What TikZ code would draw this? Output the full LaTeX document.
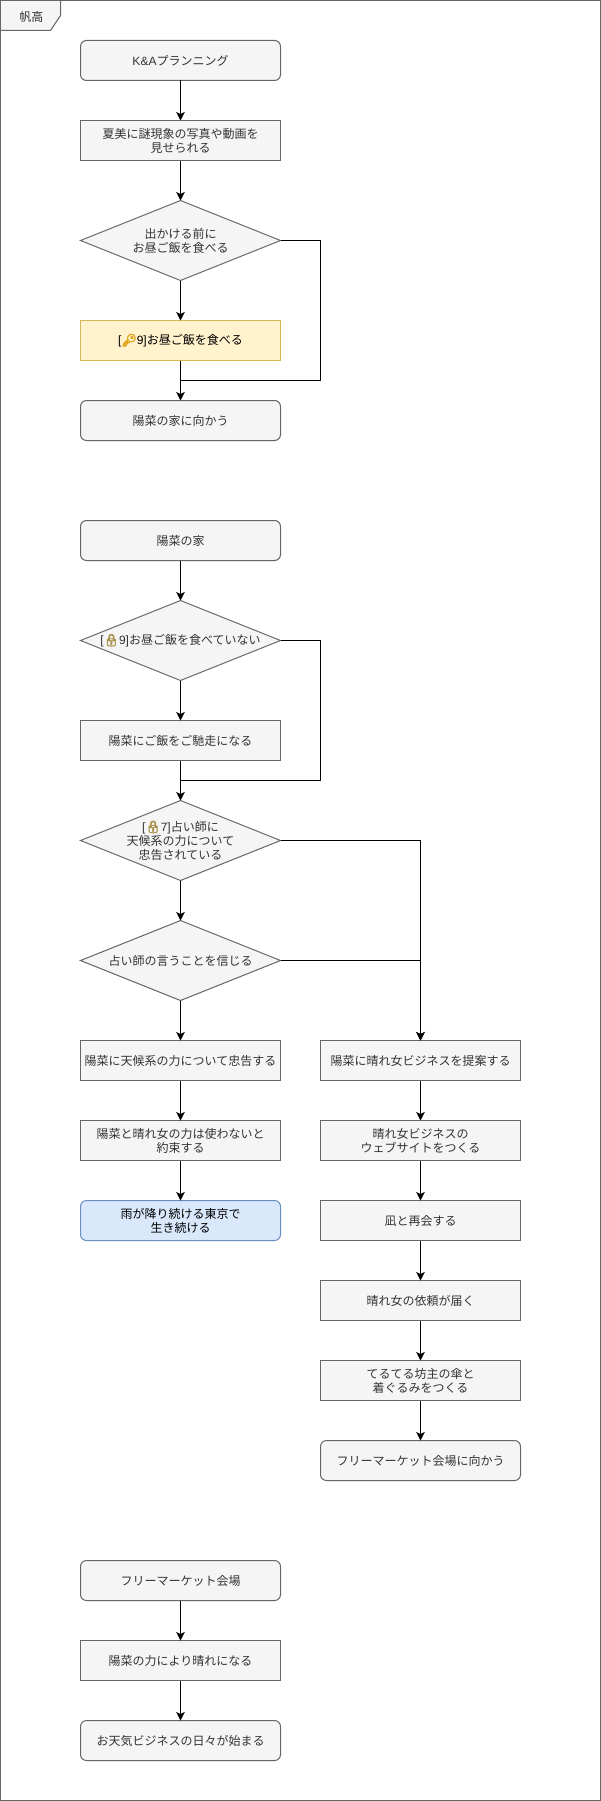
\documentclass[tikz,border=0pt]{standalone}
\usepackage{fontspec}
\setmainfont{Noto Sans CJK JP}
\newfontfamily\latinfont{Liberation Sans}
\newfontfamily\emojifont[FakeBold=4]{Noto Emoji}
\usetikzlibrary{arrows.meta,shapes.geometric}
\definecolor{boxfill}{HTML}{F5F5F5}
\definecolor{boxline}{HTML}{666666}
\definecolor{boxtext}{HTML}{333333}
\definecolor{keyfill}{HTML}{FFF2CC}
\definecolor{keyline}{HTML}{D6B656}
\definecolor{endfill}{HTML}{DAE8FC}
\definecolor{endline}{HTML}{6C8EBF}
\definecolor{keygold}{HTML}{E0A010}
\definecolor{lockgold}{HTML}{A8934A}
\newcommand{\lat}[1]{{\latinfont #1}}
\newcommand{\keyicon}{{\emojifont\textcolor{keygold}{🔑}}}
\newcommand{\lockicon}{{\emojifont\textcolor{lockgold}{🔒}}}
\begin{document}
\begin{tikzpicture}[x=1pt,y=1pt]
	\tikzstyle{every node}+=[inner sep=0pt,outer sep=0pt,align=center,font=\fontsize{12pt}{14pt}\selectfont]
	\tikzstyle{plainbox}=[draw=boxline,fill=boxfill,text=boxtext,line width=1pt,minimum width=200pt,minimum height=40pt]
	\tikzstyle{placebox}=[plainbox,rounded corners=6pt]
	\tikzstyle{keybox}=[plainbox,draw=keyline,fill=keyfill,text=black]
	\tikzstyle{endbox}=[placebox,draw=endline,fill=endfill,text=black]
	\tikzstyle{askbox}=[plainbox,diamond,aspect=2.5,minimum height=80pt,inner xsep=-80pt,inner ysep=-20pt]
	\tikzstyle{flow}=[black,line width=1pt]
	\tikzstyle{flowto}=[flow,-{Stealth[length=8.5pt,width=8.5pt,inset=2pt]}]
	\useasboundingbox (-0.5,0.5) rectangle (600.5,-1800.5);
	\draw [boxline,line width=1pt] (0,0) rectangle (600,-1800);
	\draw [boxline,fill=boxfill,line width=1pt] (0,0) -- (60,0) -- (60,-15) -- (50,-30) -- (0,-30) -- cycle;
	\node [text=boxtext] (tabname) at (31,-16) {帆高};

	\node [placebox] (plan) at (180,-60) {\lat{K\&A}プランニング};
	\node [plainbox] (photos) at (180,-140) {夏美に謎現象の写真や動画を\\見せられる};
	\node [askbox] (lunchask) at (180,-240) {出かける前に\\お昼ご飯を食べる};
	\node [keybox] (lunch) at (180,-340) {\lat{[}\keyicon\lat{9]}お昼ご飯を食べる};
	\node [placebox] (tohina) at (180,-420) {陽菜の家に向かう};
	\coordinate (turnlunch) at (320,-380);
	\coordinate (joinlunch) at (180,-380);

	\node [placebox] (hina) at (180,-540) {陽菜の家};
	\node [askbox] (hungryask) at (180,-640) {\lat{[}\lockicon\lat{9]}お昼ご飯を食べていない};
	\node [plainbox] (treat) at (180,-740) {陽菜にご飯をご馳走になる};
	\node [askbox] (warnedask) at (180,-840) {\lat{[}\lockicon\lat{7]}占い師に\\天候系の力について\\忠告されている};
	\node [askbox] (believeask) at (180,-960) {占い師の言うことを信じる};
	\coordinate (turnhungry) at (320,-780);
	\coordinate (joinhungry) at (180,-780);

	\node [plainbox] (warn) at (180,-1060) {陽菜に天候系の力について忠告する};
	\node [plainbox] (promise) at (180,-1140) {陽菜と晴れ女の力は使わないと\\約束する};
	\node [endbox] (rain) at (180,-1220) {雨が降り続ける東京で\\生き続ける};

	\node [plainbox] (propose) at (420,-1060) {陽菜に晴れ女ビジネスを提案する};
	\node [plainbox] (website) at (420,-1140) {晴れ女ビジネスの\\ウェブサイトをつくる};
	\node [plainbox] (nagi) at (420,-1220) {凪と再会する};
	\node [plainbox] (request) at (420,-1300) {晴れ女の依頼が届く};
	\node [plainbox] (costume) at (420,-1380) {てるてる坊主の傘と\\着ぐるみをつくる};
	\node [placebox] (tomarket) at (420,-1460) {フリーマーケット会場に向かう};

	\node [placebox] (market) at (180,-1580) {フリーマーケット会場};
	\node [plainbox] (sunny) at (180,-1660) {陽菜の力により晴れになる};
	\node [placebox] (days) at (180,-1740) {お天気ビジネスの日々が始まる};

	\draw [flowto] (plan) -- (photos);
	\draw [flowto] (photos) -- (lunchask);
	\draw [flowto] (lunchask) -- (lunch);
	\draw [flowto] (lunch) -- (tohina);
	\draw [flow] (lunchask.east) -| (turnlunch) -- (joinlunch);
	\draw [flowto] (hina) -- (hungryask);
	\draw [flowto] (hungryask) -- (treat);
	\draw [flowto] (treat) -- (warnedask);
	\draw [flow] (hungryask.east) -| (turnhungry) -- (joinhungry);
	\draw [flowto] (warnedask) -- (believeask);
	\draw [flowto] (believeask) -- (warn);
	\draw [flowto] (warn) -- (promise);
	\draw [flowto] (promise) -- (rain);
	\draw [flowto] (warnedask.east) -| (propose.north);
	\draw [flowto] (believeask.east) -| (propose.north);
	\draw [flowto] (propose) -- (website);
	\draw [flowto] (website) -- (nagi);
	\draw [flowto] (nagi) -- (request);
	\draw [flowto] (request) -- (costume);
	\draw [flowto] (costume) -- (tomarket);
	\draw [flowto] (market) -- (sunny);
	\draw [flowto] (sunny) -- (days);
\end{tikzpicture}
\end{document}
